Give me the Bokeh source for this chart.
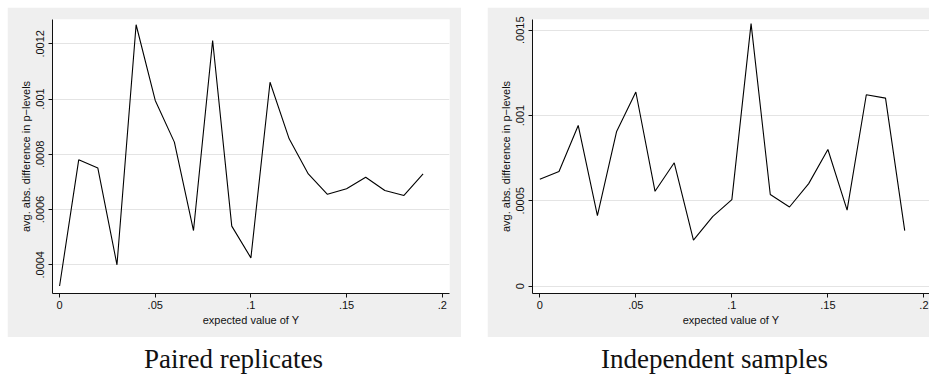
from bokeh.plotting import figure
from bokeh.layouts import column, row
from bokeh.models import Range1d, FixedTicker, Spacer
from bokeh.core.properties import value
from bokeh.embed import file_html
from bokeh.resources import INLINE

# ---- data ----
expected_y = [0.00, 0.01, 0.02, 0.03, 0.04, 0.05, 0.06, 0.07, 0.08, 0.09,
              0.10, 0.11, 0.12, 0.13, 0.14, 0.15, 0.16, 0.17, 0.18, 0.19]
paired_diff = [0.000323, 0.000780, 0.000750, 0.000400, 0.001269, 0.000995,
               0.000844, 0.000524, 0.001212, 0.000540, 0.000425, 0.001061,
               0.000856, 0.000729, 0.000655, 0.000675, 0.000717, 0.000669,
               0.000651, 0.000729]
independent_diff = [0.000627, 0.000672, 0.000942, 0.000413, 0.000907, 0.001138,
                    0.000556, 0.000723, 0.000270, 0.000407, 0.000507, 0.001539,
                    0.000537, 0.000464, 0.000601, 0.000801, 0.000446, 0.001122,
                    0.001102, 0.000325]

x_ticks = [0, 0.05, 0.1, 0.15, 0.2]
x_tick_labels = ["0", ".05", ".1", ".15", ".2"]
paired_y_ticks = [0.0004, 0.0006, 0.0008, 0.001, 0.0012]
paired_y_labels = [".0004", ".0006", ".0008", ".001", ".0012"]
indep_y_ticks = [0, 0.0005, 0.001, 0.0015]
indep_y_labels = ["0", ".0005", ".001", ".0015"]
panel_titles = ["Paired replicates", "Independent samples"]
x_axis_label = "expected value of Y"
y_axis_label = "avg. abs. difference in p\u2212levels"

GRAY = "#efefef"
SANS = "Liberation Sans"


def panel(xs, ys, yticks, ylabels, xr, yr, width, border_left, border_right):
    p = figure(width=width, height=330, x_range=Range1d(*xr), y_range=Range1d(*yr),
               toolbar_location=None, output_backend="svg",
               min_border_left=border_left, min_border_right=border_right,
               min_border_top=12, min_border_bottom=44)
    p.background_fill_color = "white"
    p.border_fill_color = GRAY
    p.outline_line_color = None
    p.xgrid.visible = False
    p.ygrid.grid_line_color = "#e4e4e4"
    p.ygrid.grid_line_width = 1

    p.xaxis.ticker = FixedTicker(ticks=x_ticks)
    p.xaxis.major_label_overrides = dict(zip(x_ticks, x_tick_labels))
    p.yaxis.ticker = FixedTicker(ticks=yticks)
    p.yaxis.major_label_overrides = dict(zip(yticks, ylabels))
    p.ygrid.ticker = FixedTicker(ticks=yticks)
    p.yaxis.major_label_orientation = "vertical"

    p.xaxis.axis_label = x_axis_label
    p.yaxis.axis_label = y_axis_label
    for ax in (p.xaxis, p.yaxis):
        ax.axis_line_color = "#111111"
        ax.axis_line_width = 1
        ax.major_tick_line_color = "#111111"
        ax.major_tick_out = 4
        ax.major_tick_in = 0
        ax.minor_tick_line_color = None
        ax.major_label_text_font = SANS
        ax.major_label_text_font_size = "11px"
        ax.major_label_text_color = "#111111"
        ax.axis_label_text_font = SANS
        ax.axis_label_text_font_size = "11px"
        ax.axis_label_text_font_style = "normal"
        ax.axis_label_text_color = "#111111"
    p.xaxis.major_label_standoff = 3
    p.xaxis.axis_label_standoff = 2
    p.yaxis.major_label_standoff = 4
    p.yaxis.axis_label_standoff = 2

    p.line(xs, ys, line_color="black", line_width=1.1)
    return p


p1 = panel(expected_y, paired_diff, paired_y_ticks, paired_y_labels,
           (-0.0037, 0.2038), (0.000296, 0.001288), 454, 45, 12)
p2 = panel(expected_y, independent_diff, indep_y_ticks, indep_y_labels,
           (-0.0038, 0.2029), (-0.0000431, 0.001563), 442, 45, 0)

# title strip below the panels (coordinates are pixels of this strip)
pt = figure(width=929, height=38, x_range=Range1d(0, 929), y_range=Range1d(0, 38),
            toolbar_location=None, output_backend="svg", min_border=0,
            x_axis_location=None, y_axis_location=None)
pt.grid.visible = False
pt.outline_line_color = None
pt.background_fill_color = "white"
pt.border_fill_color = "white"
pt.text(x=[233, 714], y=[17, 17], text=panel_titles,
        text_align="center", text_baseline="middle",
        text_font=value("Liberation Serif"), text_font_size="27px",
        text_color="#111111")

layout = column(
    Spacer(width=929, height=7),
    row(Spacer(width=7, height=330), p1, Spacer(width=26, height=330), p2),
    pt,
)

open("out.html", "w").write(file_html(layout, INLINE))
